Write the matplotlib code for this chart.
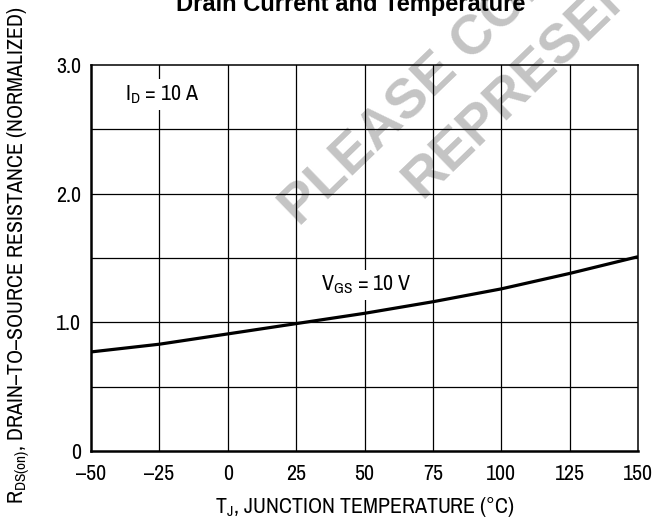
import matplotlib
matplotlib.use("Agg")
import matplotlib.pyplot as plt

temps = [-50, -25, 0, 25, 50, 75, 100, 125, 150]
rds_norm = [0.77, 0.83, 0.91, 0.99, 1.07, 1.16, 1.26, 1.38, 1.51]
x_ticks = [-50, -25, 0, 25, 50, 75, 100, 125, 150]
y_ticks = [0, 1.0, 2.0, 3.0]
y_tick_labels = ["0", "1.0", "2.0", "3.0"]
y_grid = [0.5, 1.0, 1.5, 2.0, 2.5]

cond = "Archivo Narrow"
plt.rcParams["font.family"] = [cond, "DejaVu Sans"]
plt.rcParams["mathtext.fontset"] = "custom"
plt.rcParams["mathtext.rm"] = cond
plt.rcParams["mathtext.it"] = cond
FS = 15.8

fig = plt.figure(figsize=(6.55, 5.23), dpi=100)
ax = fig.add_axes([91/655, 1-451/523, (638-91)/655, (451-65)/523])
ax.set_facecolor("none")

# watermark
wm = dict(color="#c4c4c4", fontsize=40, fontweight="bold", family="Liberation Sans",
          rotation=44, rotation_mode="anchor", ha="left", va="baseline", zorder=-1)
fig.text(300/655, 1-228/523, "PLEASE CONTACT", **wm)
fig.text(422/655, 1-200/523, "REPRESENTATIVE", **wm)

ax.plot(temps, rds_norm, color="black", lw=2.3, zorder=3, solid_capstyle="butt")

for x in x_ticks[1:-1]:
    ax.axvline(x, color="black", lw=0.9, zorder=1)
for y in y_grid:
    ax.axhline(y, color="black", lw=0.9, zorder=1)

ax.set_xlim(-50, 150)
ax.set_ylim(0, 3.0)
ax.set_xticks(x_ticks)
ax.set_xticklabels([str(t).replace("-", "\u2013") for t in x_ticks])
ax.set_yticks(y_ticks)
ax.set_yticklabels(y_tick_labels)
ax.tick_params(length=0, labelsize=FS, pad=7)
ax.tick_params(axis="x", pad=9)

for s in ["left", "bottom"]:
    ax.spines[s].set_linewidth(1.8)
for s in ["top", "right"]:
    ax.spines[s].set_linewidth(1.1)

box = dict(facecolor="white", edgecolor="none", pad=3)
ax.text(-24, 2.77, r"I$_\mathregular{D}$ = 10 A", fontsize=FS, ha="center", va="center",
        bbox=box, zorder=4)
ax.text(50.5, 1.29, r"V$_\mathregular{GS}$ = 10 V", fontsize=FS, ha="center", va="center",
        bbox=box, zorder=4)

fig.text(365/655, 1-507/523, r"T$_\mathregular{J}$, JUNCTION TEMPERATURE (°C)",
         fontsize=FS, ha="center", va="center")
fig.text(19/655, 1-255/523,
         r"R$_\mathregular{DS(on)}$, DRAIN–TO–SOURCE RESISTANCE (NORMALIZED)",
         fontsize=FS, ha="center", va="center", rotation=90)

fig.text(351/655, 1-11/523, "Drain Current and Temperature", fontsize=17,
         fontweight="bold", family="Liberation Sans", ha="center", va="baseline")

fig.savefig("out.png", dpi=100)
